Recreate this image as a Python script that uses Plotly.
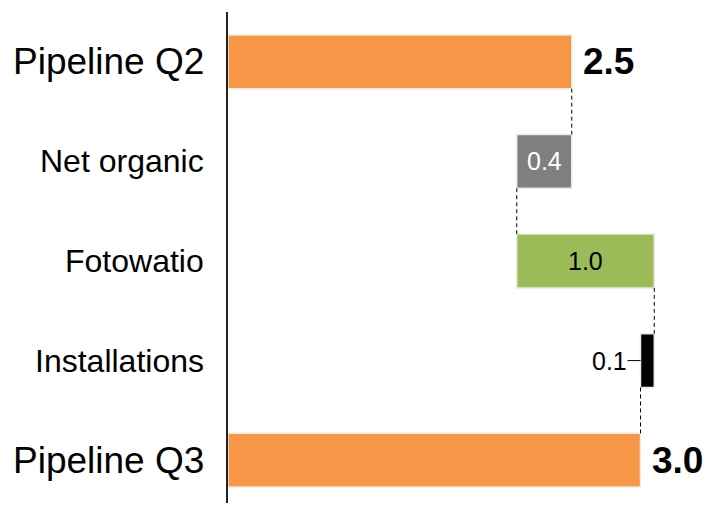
import plotly.graph_objects as go

categories = ["Pipeline Q2", "Net organic", "Fotowatio", "Installations", "Pipeline Q3"]
values = [2.5, -0.4, 1.0, -0.1, 3.0]
measures = ["total", "relative", "relative", "relative", "total"]
value_labels = ["2.5", "0.4", "1.0", "0.1", "3.0"]
colors = ["#F79646", "#7F7F7F", "#9BBB59", "#000000", "#F79646"]

# compute waterfall bases
bases, lengths, ends = [], [], []
running = 0.0
for v, m in zip(values, measures):
    if m == "total":
        base, end = 0.0, v
        running = v
    else:
        start = running
        running = running + v
        base, end = min(start, running), max(start, running)
    bases.append(base)
    lengths.append(end - base)
    ends.append(running)

ypos = list(range(len(categories)))
BAR_W = 0.54
FONT = "Liberation Sans, Arial"

fig = go.Figure()
fig.add_trace(go.Bar(
    orientation="h",
    y=ypos,
    x=lengths,
    base=bases,
    width=BAR_W,
    marker=dict(color=colors, line=dict(color="#EEEBDA", width=1.5)),
    hoverinfo="skip",
))

shapes = []
# dashed connectors
for i in range(len(categories) - 1):
    shapes.append(dict(
        type="line", xref="x", yref="y",
        x0=ends[i], x1=ends[i],
        y0=i + BAR_W / 2, y1=i + 1 - BAR_W / 2,
        line=dict(color="black", width=1, dash="4px,3px"),
    ))

annotations = []
# category labels
for i, c in enumerate(categories):
    big = measures[i] == "total"
    annotations.append(dict(
        xref="paper", yref="y", x=0, y=i, xanchor="right", yanchor="middle",
        xshift=-22, text=c, showarrow=False,
        font=dict(size=37 if big else 32, color="black", family=FONT),
    ))

# value labels
for i, lab in enumerate(value_labels):
    if measures[i] == "total":
        annotations.append(dict(
            xref="x", yref="y", x=bases[i] + lengths[i], y=i,
            xanchor="left", yanchor="middle", xshift=9,
            text="<b>" + lab + "</b>", showarrow=False,
            font=dict(size=37, color="black", family=FONT),
        ))
    elif lengths[i] < 0.2:
        # small bar: label to the left with a leader line
        shapes.append(dict(
            type="line", xref="x", yref="y", xsizemode="pixel", xanchor=bases[i],
            x0=-13, x1=0, y0=i, y1=i,
            line=dict(color="black", width=1),
        ))
        annotations.append(dict(
            xref="x", yref="y", x=bases[i], y=i,
            xanchor="right", yanchor="middle", xshift=-12,
            text=lab, showarrow=False,
            font=dict(size=25, color="black", family=FONT),
        ))
    else:
        annotations.append(dict(
            xref="x", yref="y", x=bases[i] + lengths[i] / 2, y=i,
            xanchor="center", yanchor="middle",
            text=lab, showarrow=False,
            font=dict(size=25, color="white" if colors[i] == "#7F7F7F" else "black",
                      family=FONT),
        ))

fig.update_layout(
    width=705, height=505,
    margin=dict(l=228, r=0, t=12, b=2),
    paper_bgcolor="white", plot_bgcolor="white",
    showlegend=False,
    xaxis=dict(range=[0, 477 / 137.5], visible=False, fixedrange=True),
    yaxis=dict(range=[4.43, -0.5], showticklabels=False, showgrid=False,
               zeroline=False, ticks="", showline=True, linecolor="#222222",
               linewidth=1.5, fixedrange=True),
    shapes=shapes,
    annotations=annotations,
)

fig.write_html("out.html")
